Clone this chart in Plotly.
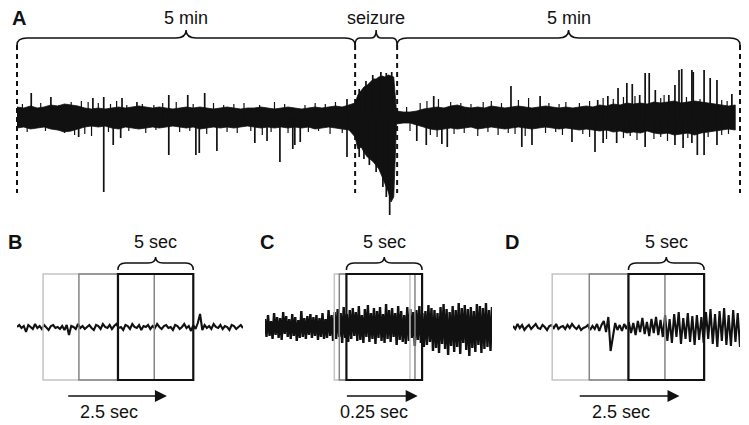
import numpy as np
import plotly.graph_objects as go

# ---------------- Panel A : 10+ minute recording (x in minutes, y amplitude units) ----
A_bounds = [0.0, 4.99, 5.61, 10.67]
A_labels = ["5 min", "seizure", "5 min"]

A_pre_span = [0.0, 4.9]
A_pre_hi = [10, 9, 11, 9, 10, 12, 11, 13, 12, 11, 9, 8, 9, 8, 9, 10, 9, 10, 11, 10,
            9, 10, 9, 8, 9, 10, 9, 10, 9, 8, 9, 10, 9, 8, 9, 9, 10, 9, 8, 9,
            10, 9, 8, 9, 10, 9, 10, 11, 10, 12]
A_pre_lo = [-11, -10, -12, -11, -10, -12, -13, -15, -14, -12, -10, -9, -10, -9, -11, -12, -10, -11, -12, -11,
            -10, -11, -10, -9, -10, -11, -10, -12, -11, -10, -11, -10, -11, -10, -9, -10, -11, -10, -11, -10,
            -11, -10, -11, -10, -12, -11, -10, -11, -12, -13]

A_seiz_t = [4.99, 5.03, 5.08, 5.12, 5.17, 5.21, 5.26, 5.30, 5.34, 5.39, 5.43, 5.48, 5.52, 5.56]
A_seiz_hi = [14, 22, 26, 30, 32, 35, 38, 38, 40, 41, 40, 42, 41, 40]
A_seiz_lo = [-20, -32, -30, -35, -40, -42, -45, -48, -52, -60, -66, -75, -85, -80]

A_post_span = [5.6, 10.6]
A_post_hi = [6, 5, 5, 6, 8, 9, 10, 9, 11, 12, 10, 9, 10, 9, 11, 10, 9, 10, 11, 10,
             9, 10, 11, 10, 9, 10, 9, 10, 11, 10, 12, 11, 13, 12, 14, 13, 14, 13, 15, 14,
             15, 16, 14, 15, 16, 15, 14, 13, 12, 11, 12]
A_post_lo = [-7, -6, -6, -8, -10, -12, -13, -12, -11, -12, -11, -10, -12, -11, -10, -11, -12, -11, -10, -11,
             -12, -11, -10, -11, -12, -11, -12, -13, -12, -13, -14, -13, -15, -14, -16, -15, -16, -14, -16, -17,
             -16, -18, -17, -16, -18, -16, -15, -14, -13, -12, -13]

# large spikes
A_up_t = [0.21, 0.50, 1.12, 1.28, 1.55, 1.77, 2.24, 2.52, 2.77, 4.87, 6.15, 7.29, 7.72, 8.57, 8.72, 8.87,
          9.00, 9.08, 9.19, 9.27, 9.33, 9.42, 9.62, 9.71, 9.77, 9.81, 9.96, 9.98, 10.14, 10.23, 10.33, 10.55,
          5.05, 5.15, 5.25, 5.37, 5.45, 5.53]
A_up_amp = [24, 20, 19, 20, 19, 15, 22, 22, 24, 18, 21, 31, 21, 17, 21, 29,
            34, 33, 22, 44, 44, 27, 22, 32, 47, 48, 47, 45, 47, 39, 37, 23,
            28, 36, 42, 45, 44, 45]
A_dn_t = [0.91, 1.28, 1.42, 1.53, 2.24, 2.64, 2.69, 2.95, 3.51, 3.69, 3.88, 4.07, 4.10, 4.18, 4.87, 5.50,
          5.90, 6.04, 6.27, 6.35, 7.45, 7.60, 8.19, 8.53, 8.65, 8.85, 9.27, 9.71, 9.83, 9.96, 10.04, 10.14, 10.33,
          5.05, 5.12, 5.20, 5.30, 5.40, 5.45]
A_dn_amp = [-20, -75, -28, -21, -38, -38, -36, -34, -26, -24, -45, -32, -28, -25, -40, -98,
            -24, -28, -27, -30, -30, -28, -25, -35, -26, -26, -30, -28, -31, -26, -38, -38, -28,
            -40, -42, -48, -55, -70, -80]

# small spikes that make the band edges ragged
A_small_up_t = [0.08, 0.35, 0.62, 0.80, 0.95, 1.05, 1.20, 1.38, 1.47, 1.62, 1.85, 2.02, 2.15, 2.35, 2.60,
                2.90, 3.05, 3.20, 3.35, 3.58, 3.80, 3.95, 4.25, 4.40, 4.55, 4.70,
                5.75, 5.95, 6.05, 6.22, 6.40, 6.55, 6.70, 6.88, 7.00, 7.15, 7.40, 7.55, 7.85, 8.00,
                8.10, 8.30, 8.45, 8.65, 8.80, 8.95, 9.12, 9.50, 9.55, 9.88, 10.08, 10.40, 10.48]
A_small_up_amp = [13, 14, 12, 15, 16, 15, 14, 13, 16, 12, 13, 12, 14, 15, 13,
                  14, 12, 13, 14, 12, 15, 13, 12, 14, 13, 15,
                  10, 14, 16, 18, 15, 14, 13, 15, 16, 14, 17, 19, 14, 13,
                  15, 14, 16, 19, 18, 20, 21, 19, 22, 20, 18, 17, 16]
A_small_dn_t = [0.15, 0.42, 0.70, 0.85, 1.00, 1.10, 1.35, 1.65, 1.90, 2.05, 2.40, 2.55, 2.80, 3.10, 3.25,
                3.45, 3.62, 3.75, 4.00, 4.30, 4.45, 4.62, 4.80,
                5.80, 6.10, 6.20, 6.45, 6.60, 6.80, 6.95, 7.10, 7.25, 7.35, 7.50, 7.80, 7.95, 8.05,
                8.35, 8.45, 8.70, 8.95, 9.05, 9.15, 9.40, 9.50, 9.60, 9.90, 10.20, 10.40, 10.50]
A_small_dn_amp = [-15, -14, -16, -18, -17, -19, -15, -14, -16, -13, -15, -14, -17, -15, -16,
                  -14, -18, -15, -16, -15, -14, -17, -16,
                  -14, -18, -20, -17, -16, -19, -15, -18, -16, -17, -19, -16, -15, -18,
                  -17, -20, -22, -21, -19, -23, -22, -20, -24, -21, -20, -18, -17]

# ---------------- Panels B, C, D : 15-second excerpts (x in seconds) -----------------
win_len = 5.0
B_box_starts = [1.73, 4.11, 6.70]
C_box_starts = [4.58, 4.91, 5.38]
D_box_starts = [2.59, 5.04, 7.63]
B_arrow = [3.3, 9.95]
C_arrow = [5.31, 10.09]
D_arrow = [4.31, 11.0]
step_labels = ["2.5 sec", "0.25 sec", "2.5 sec"]
excerpt_dur = 15.0

B_sig = [0, 2, -1, 1, -5, 2, 0, -2, 3, -1, 1, -2, 2, 0, -3, 1, 2, -1, 0, -2, 1, -3, 2, -8, 1,
         0, -2, 3, -1, 1, -2, 0, 2, -1, -3, 2, 1, -2, 3, 0, -1, 2, -2, 1, 3, -1, 0, -3, 2, 1,
         -2, 3, 0, -1, 2, -3, 1, 0, 2, -2, 1, -1, 3, 0, -2, 1, 2, -1, 0, -3, 2, 1, -2, 0, 3,
         -1, 1, -4, 2, -2, 4, 13, -3, 2, -1, 1, -2, 3, 0, -1, 2, -2, 1, 0, -3, 2, 1, -2, 0, 2, -1]

C_sig = [8, -10, 12, -9, 6, -12, 14, -8, 10, -11, 9, -13, 15, -7, 11, -10, 8, -12, 13, -9,
         10, -14, 7, -11, 16, -10, 9, -12, 11, -8, 13, -11, 10, -9, 12, -13, 9, -10, 14, -12,
         8, -11, 17, -9, 12,
         -14, 15, -12, 18, -10, 14, -16, 20, -11, 13, -15, 17, -12, 19, -9, 15, -14, 21, -13, 12,
         -16, 18, -10, 22, -15, 14, -12, 19, -17, 16, -11, 20, -14, 13, -16, 23, -12, 17, -15, 19,
         -10, 14, -18, 21, -13, 16, -15, 12, -17, 20, -14, 18, -11, 15, -19, 17, -13, 21, -16, 14,
         -20, 16, -18, 22, -15, 19, -24, 17, -21, 14, -26, 20, -17, 23, -22, 18, -28, 15, -19, 21,
         -25, 17, -20, 24, -27, 19, -16, 22, -23, 18, -29, 20, -21, 16, -25, 23, -18, 21, -26, 19,
         -22, 24, -20, 17, -24, 20]

D_sig = [1, -2, 3, -1, 2, -3, 0, 2, -2, 1, 3, -1, -2, 2, 0, -3, 1, 2, -1, 3, -2, 0, 1, -2, 2,
         -1, 3, 0, -2, 1, -3, -1, 0,
         2, -3, 1, -2, 3, -4, 2, 6, -5, 10, -24, -8, 4, -3, 2, -4, 3, -2,
         5, -6, 4, -8, 6, -5, 9, -7, 5, -9, 8, -6, 10, -8, 7, -10,
         12, -14, 8, -16, 13, -10, 15, -17, 9, -12, 14, -15, 11, -18, 12, -13, 10, -16,
         15, -12, 18, -17, 13, -20, 16, -14, 19, -18, 12, -19, 17, -15, 14, -20]

# ---------------- styling -----------------------------------------------------------
FONT = "Liberation Sans, Arial, Helvetica, sans-serif"
INK = "#111111"
box_colors = ["#c4c4c4", "#858585", INK]
box_widths = [1.5, 1.5, 2.2]
OFF = 8                     # page body margin
W, H = 749 - OFF, 425 - OFF
A_PX_PER_MIN = (740 - 17) / 10.67
A_PAD = 0.1                 # min of padding so the edge dashed lines are not clipped


def fx(px):
    return (px - OFF) / W


def fy(py):
    return 1 - (py - OFF) / H


fig = go.Figure()

# Panel A band (upper envelope forward, lower envelope backward)
pre_t = list(np.linspace(A_pre_span[0], A_pre_span[1], len(A_pre_hi)))
post_t = list(np.linspace(A_post_span[0], A_post_span[1], len(A_post_hi)))
all_t = pre_t + A_seiz_t + post_t
all_hi = A_pre_hi + A_seiz_hi + A_post_hi
all_lo = A_pre_lo + A_seiz_lo + A_post_lo
fig.add_trace(go.Scatter(x=all_t + all_t[::-1], y=all_hi + all_lo[::-1], fill="toself",
                         fillcolor=INK, line=dict(color=INK, width=0.8),
                         mode="lines", hoverinfo="skip", xaxis="x", yaxis="y"))


def spikes(ts, amps):
    sx, sy = [], []
    for t, a in zip(ts, amps):
        sx += [t, t, None]
        sy += [0, a, None]
    return sx, sy


sx, sy = spikes(A_small_up_t + A_small_dn_t, A_small_up_amp + A_small_dn_amp)
fig.add_trace(go.Scatter(x=sx, y=sy, mode="lines", line=dict(color=INK, width=1.2),
                         hoverinfo="skip", xaxis="x", yaxis="y"))
sx, sy = spikes(A_up_t + A_dn_t, A_up_amp + A_dn_amp)
fig.add_trace(go.Scatter(x=sx, y=sy, mode="lines", line=dict(color=INK, width=1.7),
                         hoverinfo="skip", xaxis="x", yaxis="y"))

# excerpt traces
for sig, ax_id, lw in [(B_sig, "2", 2.1), (C_sig, "3", 2.4), (D_sig, "4", 2.1)]:
    tt = np.linspace(0, excerpt_dur, len(sig))
    fig.add_trace(go.Scatter(x=tt, y=sig, mode="lines", line=dict(color=INK, width=lw),
                             hoverinfo="skip", xaxis="x" + ax_id, yaxis="y" + ax_id))

shapes = []
annotations = []


def brace(x0, x1, yb, yh, yt, r, xref, yref):
    m = (x0 + x1) / 2
    path = (f"M {x0},{yb} Q {x0},{yh} {x0 + r},{yh} L {m - r},{yh} "
            f"Q {m},{yh} {m},{yt} Q {m},{yh} {m + r},{yh} L {x1 - r},{yh} Q {x1},{yh} {x1},{yb}")
    return dict(type="path", path=path, xref=xref, yref=yref,
                line=dict(color=INK, width=1.5))


# Panel A dashed boundaries, braces, labels
for b in A_bounds:
    shapes.append(dict(type="line", xref="x", yref="y", x0=b, x1=b, y0=72, y1=-76,
                       line=dict(color=INK, width=2, dash="5px,4px")))
for i, lab in enumerate(A_labels):
    x0, x1 = A_bounds[i], A_bounds[i + 1]
    r = 0.15 if (x1 - x0) > 1 else 0.07
    shapes.append(brace(x0, x1, 72, 79, 87, r, "x", "y"))
    annotations.append(dict(x=(x0 + x1) / 2, y=99, xref="x", yref="y", text=lab, showarrow=False,
                            font=dict(size=18, color=INK, family=FONT)))

# Panels B, C, D boxes, braces, arrows
for starts, arrow, lab, ax_id in [(B_box_starts, B_arrow, step_labels[0], "2"),
                                  (C_box_starts, C_arrow, step_labels[1], "3"),
                                  (D_box_starts, D_arrow, step_labels[2], "4")]:
    xr, yr = "x" + ax_id, "y" + ax_id
    for s, c, w in zip(starts, box_colors, box_widths):
        shapes.append(dict(type="rect", xref=xr, yref=yr, x0=s, x1=s + win_len, y0=-53, y1=53,
                           line=dict(color=c, width=w)))
    s3 = starts[-1]
    shapes.append(brace(s3, s3 + win_len, 57, 64, 70, 0.5, xr, yr))
    annotations.append(dict(x=s3 + win_len / 2, y=85, xref=xr, yref=yr, text="5 sec", showarrow=False,
                            font=dict(size=18, color=INK, family=FONT)))
    annotations.append(dict(x=arrow[1], y=-69, ax=arrow[0], ay=-69, xref=xr, yref=yr,
                            axref=xr, ayref=yr, text="", showarrow=True, arrowhead=2,
                            arrowsize=1.5, arrowwidth=1.6, arrowcolor=INK, standoff=0))
    annotations.append(dict(x=(arrow[0] + arrow[1]) / 2 - 0.5, y=-85, xref=xr, yref=yr, text=lab,
                            showarrow=False, font=dict(size=18, color=INK, family=FONT)))

# panel letters
for letter, px, py in [("A", 19, 18), ("B", 15, 242), ("C", 267, 242), ("D", 512, 242)]:
    annotations.append(dict(x=fx(px), y=fy(py), xref="paper", yref="paper", text=f"<b>{letter}</b>",
                            showarrow=False, xanchor="center", yanchor="middle",
                            font=dict(size=20, color=INK, family=FONT)))

pad_px = A_PAD * A_PX_PER_MIN
ax_common = dict(visible=False, showgrid=False, zeroline=False, fixedrange=True)
fig.update_layout(
    width=W, height=H, margin=dict(l=0, r=0, t=0, b=0),
    paper_bgcolor="white", plot_bgcolor="white", showlegend=False,
    xaxis=dict(domain=[fx(17 - pad_px), fx(740 + pad_px)], range=[-A_PAD, 10.67 + A_PAD],
               anchor="y", **ax_common),
    yaxis=dict(domain=[fy(225), 1], range=[-108, 117 - OFF], anchor="x", **ax_common),
    xaxis2=dict(domain=[fx(17), fx(243)], range=[0, excerpt_dur], anchor="y2", **ax_common),
    yaxis2=dict(domain=[0, fy(225)], range=[-98, 102], anchor="x2", **ax_common),
    xaxis3=dict(domain=[fx(265), fx(492)], range=[0, excerpt_dur], anchor="y3", **ax_common),
    yaxis3=dict(domain=[0, fy(225)], range=[-98, 102], anchor="x3", **ax_common),
    xaxis4=dict(domain=[fx(513), fx(740)], range=[0, excerpt_dur], anchor="y4", **ax_common),
    yaxis4=dict(domain=[0, fy(225)], range=[-98, 102], anchor="x4", **ax_common),
    shapes=shapes, annotations=annotations,
)

fig.write_html("out.html")
